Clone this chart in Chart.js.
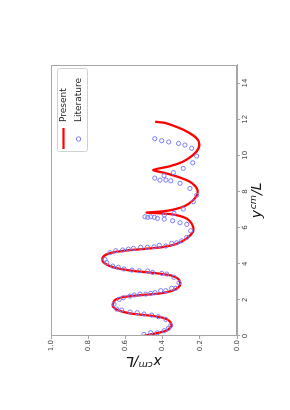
<!DOCTYPE html>
<html>
<head>
<meta charset="utf-8">
<script src="https://cdn.jsdelivr.net/npm/chart.js@4/dist/chart.umd.min.js"></script>
<style>
html,body{margin:0;padding:0;background:#fff;width:290px;height:410px;overflow:hidden;}
#wrap{position:absolute;left:0;top:0;width:410px;height:290px;transform-origin:0 0;transform:translate(0,410px) rotate(-90deg);}
</style>
</head>
<body>
<div id="wrap"><canvas id="c" width="410" height="290"></canvas></div>
<script>
// Present (red line): y^cm/L and x^cm/L
const presentY = [0.00,0.15,0.30,0.55,0.80,1.00,1.12,1.25,1.45,1.65,1.85,2.00,2.15,2.25,2.35,2.50,2.70,2.90,3.15,3.35,3.48,3.60,3.75,3.90,4.10,4.30,4.50,4.65,4.75,4.82,4.92,5.10,5.40,5.75,6.00,6.25,6.50,6.65,6.75,6.80,6.83,6.90,7.00,7.20,7.50,7.80,8.05,8.30,8.55,8.80,9.00,9.19,9.40,9.65,9.95,10.25,10.55,10.85,11.10,11.40,11.65,11.80,11.86];
const presentX = [0.505,0.435,0.378,0.352,0.360,0.395,0.46,0.575,0.645,0.668,0.665,0.655,0.615,0.53,0.42,0.35,0.315,0.305,0.315,0.355,0.44,0.555,0.645,0.69,0.72,0.724,0.705,0.655,0.58,0.50,0.40,0.325,0.27,0.238,0.235,0.245,0.27,0.31,0.36,0.43,0.486,0.40,0.34,0.28,0.238,0.215,0.212,0.225,0.255,0.315,0.38,0.45,0.36,0.29,0.245,0.215,0.203,0.21,0.235,0.285,0.345,0.39,0.44];
// Literature (blue open circles)
const literatureY = [0.09,0.18,0.18,0.29,0.42,0.59,0.92,1.07,1.16,1.22,1.29,1.33,1.44,1.49,1.77,2.03,2.12,2.21,2.27,2.32,2.32,2.36,2.40,2.51,2.51,2.64,2.64,2.95,3.25,3.43,3.47,3.52,3.60,3.61,3.65,3.71,3.80,3.87,4.06,4.24,4.61,4.72,4.76,4.81,4.85,4.91,4.91,4.94,5.02,4.98,5.13,5.16,5.27,5.46,5.83,6.18,6.27,6.38,6.47,6.70,6.51,6.57,6.60,6.57,6.60,6.79,7.03,7.43,7.79,8.17,8.45,8.59,8.63,8.63,8.74,8.87,9.04,9.28,9.59,9.96,10.39,10.57,10.66,10.74,10.81,10.92];
const literatureX = [0.50,0.464,0.428,0.392,0.369,0.356,0.383,0.423,0.459,0.50,0.536,0.575,0.62,0.647,0.661,0.633,0.611,0.575,0.552,0.522,0.491,0.464,0.441,0.41,0.383,0.351,0.33,0.312,0.339,0.378,0.405,0.454,0.48,0.525,0.565,0.608,0.638,0.668,0.70,0.71,0.683,0.652,0.615,0.584,0.557,0.518,0.482,0.446,0.418,0.383,0.351,0.324,0.297,0.27,0.249,0.27,0.306,0.346,0.391,0.391,0.428,0.444,0.464,0.48,0.495,0.339,0.289,0.235,0.217,0.253,0.306,0.356,0.382,0.414,0.442,0.392,0.342,0.289,0.238,0.217,0.244,0.28,0.314,0.367,0.405,0.442];
const yTicks = [0,2,4,6,8,10,12,14];
const xTicks = [0.0,0.2,0.4,0.6,0.8,1.0];
const seriesNames = ['Present','Literature'];

const presentData = presentY.map((v,i)=>({x:v,y:presentX[i]}));
const litData = literatureY.map((v,i)=>({x:v,y:literatureX[i]}));

const FONT = "'DejaVu Sans', sans-serif";

function drawMathLabel(ctx, base, sup, rest, cx, cy) {
  ctx.save();
  ctx.fillStyle = '#111';
  ctx.textBaseline = 'alphabetic';
  const big = "italic 14px " + FONT, small = "italic 9.5px " + FONT;
  ctx.font = big; const w1 = ctx.measureText(base).width;
  ctx.font = small; const w2 = ctx.measureText(sup).width;
  ctx.font = big; const w3 = ctx.measureText(rest).width;
  let x = cx - (w1 + w2 + w3) / 2;
  const by = cy + 5;
  ctx.font = big; ctx.fillText(base, x, by); x += w1 + 0.5;
  ctx.font = small; ctx.fillText(sup, x, by - 5.5); x += w2;
  ctx.font = big; ctx.fillText(rest, x, by);
  ctx.restore();
}

const extras = {
  id: 'extras',
  afterDraw(chart) {
    const ctx = chart.ctx, a = chart.chartArea;
    ctx.save();
    ctx.strokeStyle = '#a6a6a6';
    ctx.lineWidth = 1;
    ctx.strokeRect(Math.round(a.left) + 0.5, Math.round(a.top) + 0.5, Math.round(a.right - a.left) - 1, Math.round(a.bottom - a.top) - 1);
    // legend
    ctx.fillStyle = 'rgba(255,255,255,0.85)';
    ctx.strokeStyle = '#d0d0d0';
    ctx.beginPath();
    ctx.roundRect(258.5, 57.5, 83, 30, 2);
    ctx.fill(); ctx.stroke();
    ctx.strokeStyle = '#ff0000'; ctx.lineWidth = 2.2;
    ctx.beginPath(); ctx.moveTo(261, 63.5); ctx.lineTo(282, 63.5); ctx.stroke();
    ctx.strokeStyle = '#7b7bff'; ctx.lineWidth = 1;
    ctx.beginPath(); ctx.arc(271, 78.5, 2.2, 0, Math.PI * 2); ctx.stroke();
    ctx.fillStyle = '#222'; ctx.font = "9px " + FONT; ctx.textBaseline = 'middle'; ctx.textAlign = 'left';
    ctx.fillText(seriesNames[0], 288, 64);
    ctx.fillText(seriesNames[1], 288, 79);
    ctx.restore();
    // axis titles
    drawMathLabel(ctx, 'y', 'cm', '/L', (a.left + a.right) / 2, 256);
    ctx.save();
    ctx.translate(48, (a.top + a.bottom) / 2);
    ctx.rotate(-Math.PI / 2);
    drawMathLabel(ctx, 'x', 'cm', '/L', 0, 0);
    ctx.restore();
  }
};

new Chart(document.getElementById('c'), {
  type: 'scatter',
  data: {
    datasets: [
      { label: seriesNames[0], data: presentData, showLine: true, borderColor: '#ff0000', backgroundColor: '#ff0000', borderWidth: 2.3, pointRadius: 0, tension: 0.2, order: 2 },
      { label: seriesNames[1], data: litData, showLine: false, borderColor: '#7b7bff', backgroundColor: 'rgba(0,0,0,0)', borderWidth: 1, pointRadius: 2.1, pointStyle: 'circle', order: 1 }
    ]
  },
  options: {
    responsive: false,
    devicePixelRatio: 1,
    animation: false,
    layout: { padding: { left: 0, right: 65, top: 51, bottom: 0 } },
    plugins: { legend: { display: false }, tooltip: { enabled: false } },
    scales: {
      x: {
        type: 'linear', min: 0, max: 15,
        afterBuildTicks: s => { s.ticks = yTicks.map(v => ({ value: v })); },
        afterFit: s => { s.height = 53; },
        grid: { drawOnChartArea: false, tickLength: 3, color: '#a6a6a6' },
        border: { display: true, color: '#a6a6a6' },
        ticks: { font: { family: FONT, size: 7 }, color: '#444', padding: 1, maxRotation: 0, autoSkip: false, callback: v => String(v) }
      },
      y: {
        type: 'linear', min: 0, max: 1,
        afterBuildTicks: s => { s.ticks = xTicks.map(v => ({ value: v })); },
        afterFit: s => { s.width = 74; },
        grid: { drawOnChartArea: false, tickLength: 3, color: '#a6a6a6' },
        border: { display: true, color: '#a6a6a6' },
        ticks: { font: { family: FONT, size: 7 }, color: '#444', padding: 1, autoSkip: false, callback: v => Number(v).toFixed(1) }
      }
    }
  },
  plugins: [extras]
});
</script>
</body>
</html>
